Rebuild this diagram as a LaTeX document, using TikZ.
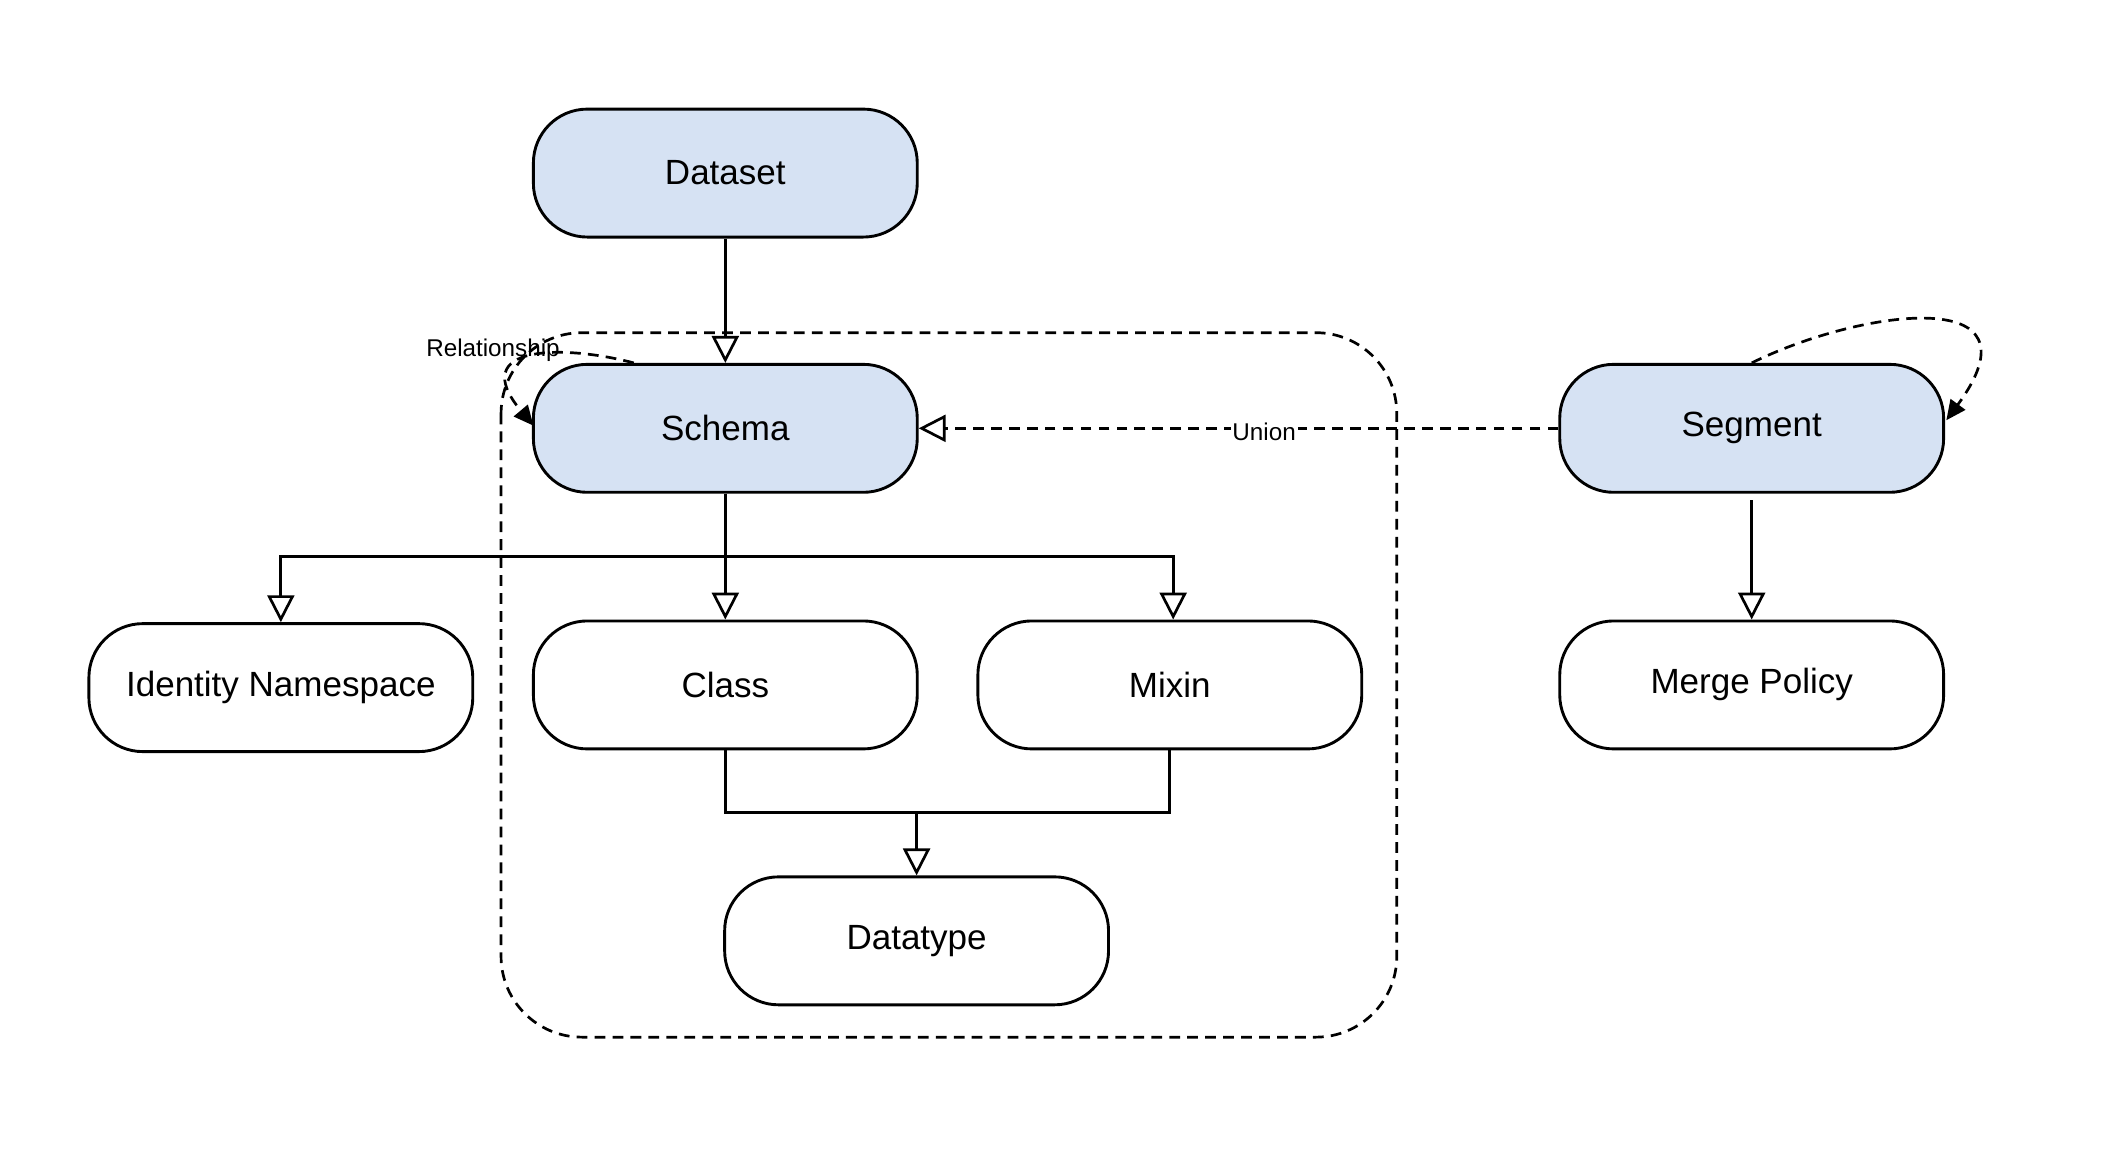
\documentclass[tikz,border=0pt]{standalone}
\usepackage{fontspec}
\setmainfont{Liberation Sans}
\usetikzlibrary{arrows.meta}
\begin{document}
\begin{tikzpicture}[x=0.75pt,y=-0.75pt,
  box/.style={draw,line width=1.6pt,rounded corners=30pt,minimum width=213.75pt,minimum height=71.25pt,inner sep=0pt,font=\fontsize{19.5}{24}\selectfont},
  blue/.style={box,fill={rgb,255:red,214;green,226;blue,243}},
  plain/.style={box,fill=white},
  inh/.style={draw,line width=1.5pt,-{Triangle[open,length=15pt,width=15pt,fill=white]}},
  dep/.style={draw,line width=1.5pt,dash pattern=on 6pt off 4pt,-{Triangle[length=11pt,width=10pt]}},
  lbl/.style={font=\fontsize{13.5}{16}\selectfont,fill=white,inner sep=1pt}]
\useasboundingbox (0,0) rectangle (1568,857);
\draw[line width=1.5pt,dash pattern=on 6pt off 4pt,rounded corners=45pt] (372,247) rectangle (1037,770);
\node[blue] (dataset) at (538.5,128.5) {Dataset};
\node[blue] (schema) at (538.5,318) {Schema};
\node[blue] (segment) at (1300.5,318) {Segment};
\node[plain] (ident) at (208.5,510.5) {Identity Namespace};
\node[plain] (class) at (538.5,508.5) {Class};
\node[plain] (mixin) at (868.5,508.5) {Mixin};
\node[plain] (merge) at (1300.5,508.5) {Merge Policy};
\node[plain] (datatype) at (680.5,698.5) {Datatype};
\coordinate (jn) at (538.5,413);
\coordinate (jd) at (680.5,603);
\path[inh] (dataset) -- (schema);
\path[inh] (schema) -- (class);
\path[inh] (jn) -| (ident.north);
\path[inh] (jn) -| ([xshift=2.5*0.75pt]mixin.north);
\draw[line width=1.5pt] (schema.south) -- (jn);
\draw[line width=1.5pt] (class.south) |- (jd);
\draw[line width=1.5pt] (mixin.south) |- (jd);
\path[inh] (jd) -- (datatype.north);
\path[inh] ([yshift=-5*0.75pt]segment.south) -- (merge.north);
\path[inh,dash pattern=on 6pt off 4pt] (segment.west) -- node[lbl,pos=0.46,yshift=-2pt]{Union} (schema.east);
\path[dep] ([xshift=-68*0.75pt]schema.north) .. controls (420,256) and (345,255) .. (396,316);
\node[lbl,fill=none] (rel) at (366,260) {Relationship};
\path[dep] (segment.north) .. controls (1380,230) and (1520,210) .. (1445,312);
\end{tikzpicture}
\end{document}
